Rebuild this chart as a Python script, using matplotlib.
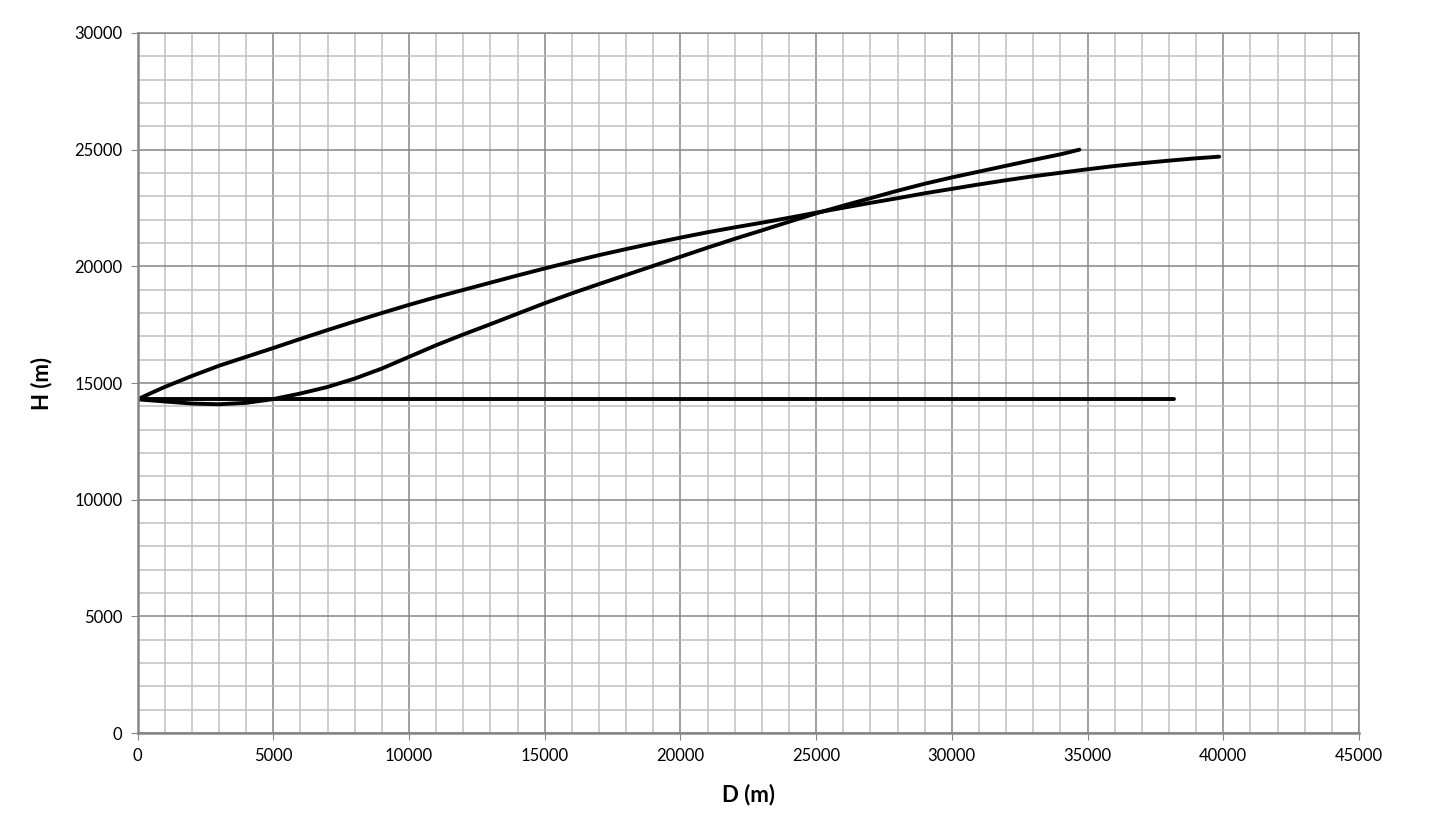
import matplotlib
matplotlib.use("Agg")
import matplotlib.pyplot as plt
from matplotlib.ticker import MultipleLocator

# Data (D in m, H in m)
upper_d = [0, 500, 1000, 2000, 3000, 4000, 5000, 6000, 7000, 8000, 9000, 10000,
           11000, 12000, 13000, 14000, 15000, 16000, 17000, 18000, 19000, 20000,
           21000, 22000, 23000, 24000, 25000, 26000, 27000, 28000, 29000, 30000,
           31000, 32000, 33000, 34000, 35000, 36000, 37000, 38000, 39000, 39850]
upper_h = [14300, 14570, 14830, 15300, 15740, 16120, 16500, 16890, 17270, 17640, 18000, 18350,
           18680, 18990, 19300, 19610, 19910, 20200, 20480, 20740, 20990, 21230,
           21460, 21670, 21870, 22080, 22300, 22510, 22720, 22920, 23130, 23320,
           23510, 23690, 23860, 24010, 24160, 24300, 24420, 24530, 24630, 24700]

lower_d = [0, 1000, 2000, 3000, 4000, 5000, 6000, 7000, 8000, 9000, 10000,
           11000, 12000, 13000, 14000, 15000, 16000, 17000, 18000, 19000, 20000,
           21000, 22000, 23000, 24000, 25000, 26000, 27000, 28000, 29000, 30000,
           31000, 32000, 33000, 34000, 34700]
lower_h = [14300, 14210, 14120, 14090, 14150, 14310, 14550, 14830, 15190, 15620, 16120,
           16620, 17080, 17520, 17970, 18420, 18840, 19240, 19630, 20020, 20410,
           20800, 21180, 21540, 21910, 22270, 22600, 22920, 23240, 23540, 23810,
           24060, 24310, 24560, 24800, 25000]

flat_d = [0, 38200]
flat_h = [14300, 14300]

x_ticks = list(range(0, 45001, 5000))
y_ticks = list(range(0, 30001, 5000))

fig = plt.figure(figsize=(14.42, 8.25), dpi=100)
ax = fig.add_axes([0.0954, 0.1115, 0.8470, 0.8485])

major_c = "#868686"
minor_c = "#c0c0c0"

ax.set_xlim(0, 45000)
ax.set_ylim(0, 30000)
ax.set_xticks(x_ticks)
ax.set_yticks(y_ticks)
ax.xaxis.set_minor_locator(MultipleLocator(1000))
ax.yaxis.set_minor_locator(MultipleLocator(1000))
ax.grid(which="minor", color=minor_c, linewidth=1.1)
ax.grid(which="major", color=major_c, linewidth=1.1)
ax.set_axisbelow(True)

for s in ax.spines.values():
    s.set_color(major_c)
    s.set_linewidth(1.1)
ax.spines["left"].set_linewidth(1.8)
ax.spines["bottom"].set_linewidth(1.8)

ax.tick_params(which="major", direction="out", length=5, color=major_c,
               labelsize=12, pad=6)
ax.tick_params(which="minor", length=0)
for lab in ax.get_xticklabels() + ax.get_yticklabels():
    lab.set_family(["Lato", "DejaVu Sans"])

for d, h in [(upper_d, upper_h), (lower_d, lower_h), (flat_d, flat_h)]:
    ax.plot(d, h, color="black", linewidth=2.8, solid_capstyle="round",
            solid_joinstyle="round")

ax.set_xlabel("D (m)", fontsize=16, fontweight="bold", family=["Lato", "DejaVu Sans"], labelpad=14)
ax.set_ylabel("H (m)", fontsize=16, fontweight="bold", family=["Lato", "DejaVu Sans"], labelpad=16)

fig.savefig("out.png", dpi=100)
